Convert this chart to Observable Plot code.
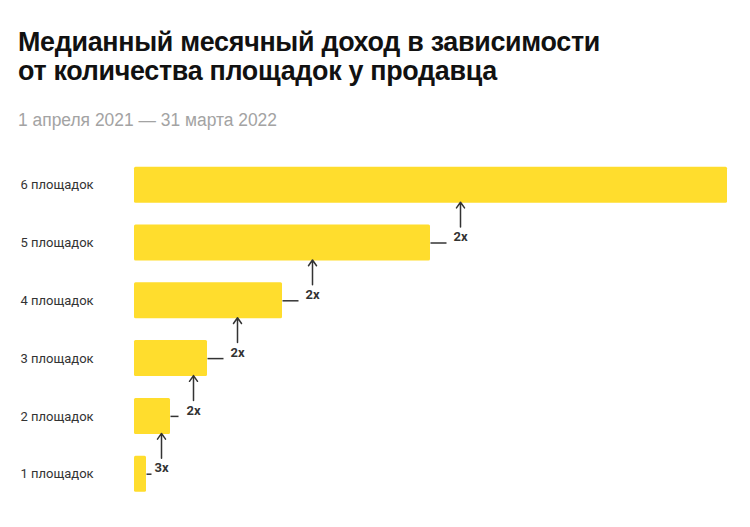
<!DOCTYPE html>
<html>
<head>
<meta charset="utf-8">
<script src="https://cdn.jsdelivr.net/npm/d3@7"></script>
<script src="https://cdn.jsdelivr.net/npm/@observablehq/plot@0.6"></script>
<style>
  html, body { margin: 0; padding: 0; background: #fff; }
  #wrap { position: relative; width: 750px; height: 527px; overflow: hidden; }
  .title { position: absolute; left: 18px; top: 28px; font-family: "Liberation Sans", Arial, sans-serif; font-weight: 700; font-size: 27px; line-height: 29px; color: #111; white-space: nowrap; transform-origin: 0 0; letter-spacing: -0.3px; }
  .subtitle { position: absolute; left: 18px; top: 110px; font-family: "Liberation Sans", Arial, sans-serif; font-size: 18px; line-height: 20px; color: #a3a3a3; white-space: nowrap; transform-origin: 0 0; }
  #chart { position: absolute; left: 0; top: 150px; }
</style>
</head>
<body>
<div id="wrap">
  <div class="title" id="title"><span>Медианный месячный доход в зависимости</span><br><span>от количества площадок у продавца</span></div>
  <div class="subtitle" id="subtitle"><span>1 апреля 2021 — 31 марта 2022</span></div>
  <div id="chart"></div>
</div>
<script>
// Data (relative median monthly income)
const categories = ["1 площадок", "2 площадок", "3 площадок", "4 площадок", "5 площадок", "6 площадок"];
const income = [12, 36, 73, 148, 296, 593];
const multipliers = ["3x", "2x", "2x", "2x", "2x"]; // growth from each row to the next

// Layout / styling
const width = 750, height = 377;
const marginLeft = 134, marginRight = 23;
const arrowOffsets = [15, 23, 30, 30, 30]; // px to the right of the lower bar's end
const dashLengths = [5, 8, 16, 16, 16];
const k = (width - marginLeft - marginRight) / d3.max(income); // px per data unit

const rows = categories.map((c, i) => ({category: c, value: income[i]}));
const steps = multipliers.map((m, i) => ({
  from: categories[i], to: categories[i + 1], value: income[i], label: m,
  ax: income[i] + arrowOffsets[i] / k, dx2: income[i] + dashLengths[i] / k
}));

const chart = Plot.plot({
  width, height,
  marginLeft, marginRight, marginTop: 0, marginBottom: 0,
  style: {fontFamily: "Roboto, sans-serif", background: "transparent"},
  x: {domain: [0, d3.max(income)], axis: null},
  y: {domain: [...categories].reverse(), range: [16.7, 341.7], paddingInner: 0.377, paddingOuter: 0, round: false, axis: null},
  marks: [
    Plot.barX(rows, {x: "value", y: "category", fill: "#FFDD2D", rx: 1.5}),
    Plot.link(steps, {x1: "value", x2: "dx2", y1: "from", y2: "from", stroke: "#333", strokeWidth: 1.5}),
    Plot.arrow(steps, {x: "ax", y1: "from", y2: "to", insetStart: 16, insetEnd: 17, headLength: 7, headAngle: 70, stroke: "#333", strokeWidth: 1.5}),
    Plot.text(steps, {x: "ax", y: "from", text: "label", dy: -6, fontWeight: 700, fontSize: 13, fill: "#333"}),
    Plot.text(rows, {y: "category", text: "category", frameAnchor: "left", dx: 20 - marginLeft, textAnchor: "start", fontSize: 13, fill: "#333"})
  ]
});
document.getElementById("chart").appendChild(chart);

// condense title / subtitle horizontally to the reference widths
function fit(id, target) {
  const el = document.getElementById(id);
  const w = Math.max(...[...el.querySelectorAll("span")].map(s => s.getBoundingClientRect().width));
  el.style.transform = `scaleX(${target / w})`;
}
fit("title", 582);
fit("subtitle", 259);
</script>
</body>
</html>
